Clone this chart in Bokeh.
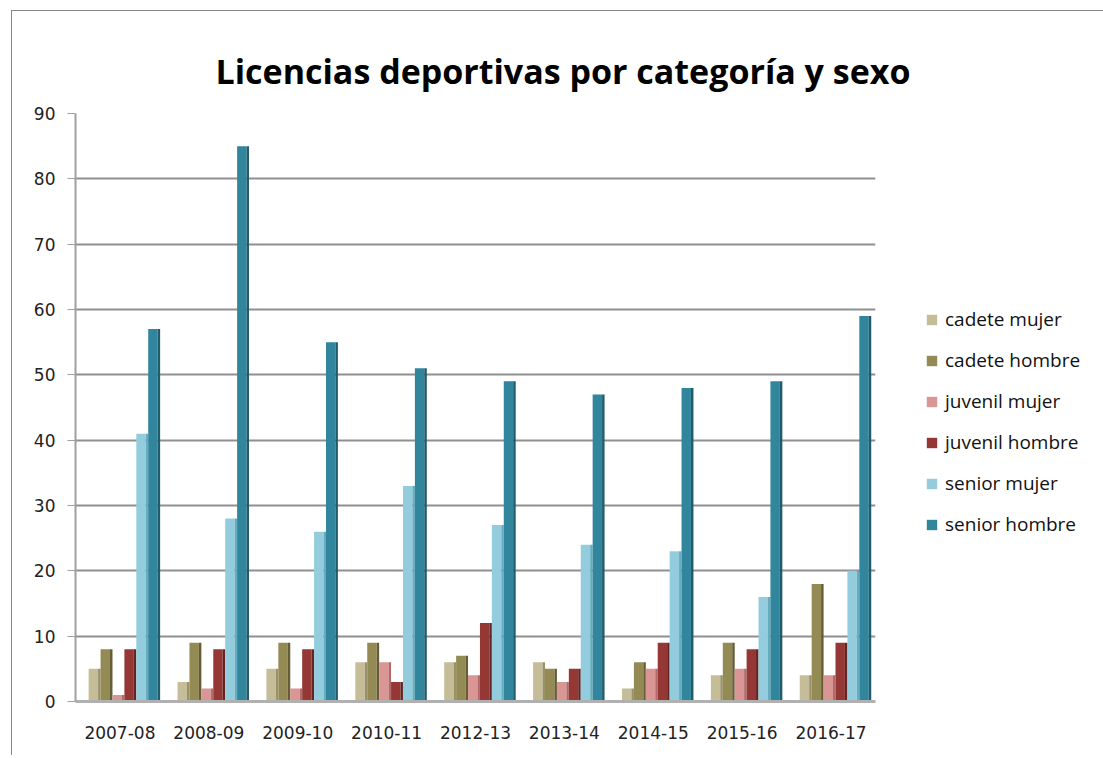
from bokeh.plotting import figure
from bokeh.models import ColumnDataSource, FactorRange, Range1d, Legend, LegendItem, SingleIntervalTicker
from bokeh.transform import dodge
from bokeh.embed import file_html
from bokeh.resources import INLINE

years = ["2007-08", "2008-09", "2009-10", "2010-11", "2012-13",
         "2013-14", "2014-15", "2015-16", "2016-17"]
cadete_mujer = [5, 3, 5, 6, 6, 6, 2, 4, 4]
cadete_hombre = [8, 9, 9, 9, 7, 5, 6, 9, 18]
juvenil_mujer = [1, 2, 2, 6, 4, 3, 5, 5, 4]
juvenil_hombre = [8, 8, 8, 3, 12, 5, 9, 8, 9]
senior_mujer = [41, 28, 26, 33, 27, 24, 23, 16, 20]
senior_hombre = [57, 85, 55, 51, 49, 47, 48, 49, 59]
series_names = ["cadete mujer", "cadete hombre", "juvenil mujer",
                "juvenil hombre", "senior mujer", "senior hombre"]
title_text = "Licencias deportivas por categoría y sexo"

series_keys = ["cm", "ch", "jm", "jh", "sm", "sh"]
front_colors = ["#c4bd97", "#948a54", "#d99694", "#953735", "#93cddd", "#31859c"]
side_colors = ["#9a9168", "#645d36", "#b06b69", "#632523", "#64adc1", "#215c6c"]

source = ColumnDataSource(data=dict(
    years=years, cm=cadete_mujer, ch=cadete_hombre, jm=juvenil_mujer,
    jh=juvenil_hombre, sm=senior_mujer, sh=senior_hombre))

p = figure(x_range=FactorRange(*years, range_padding=0), y_range=Range1d(0, 90),
           frame_width=800, frame_height=588,
           min_border_left=63, min_border_right=215, min_border_top=102, min_border_bottom=54,
           output_backend="svg", toolbar_location=None, tools="")

p.title.text = title_text
p.title.text_font = "Open Sans"
p.title.text_font_style = "bold"
p.title.text_font_size = "34px"
p.title.text_color = "#000000"
p.title.align = "left"
p.title.offset = 140
p.title.standoff = 40

slot = 0.134
front_w = 0.106
side_w = 0.028
items = []
for i, (key, name) in enumerate(zip(series_keys, series_names)):
    center = (i - 2.5) * slot + 0.05
    fx = center - side_w / 2
    sx = fx + front_w / 2 + side_w / 2
    r = p.vbar(x=dodge("years", fx, range=p.x_range), top=key, width=front_w,
               source=source, fill_color=front_colors[i], line_color=None)
    p.vbar(x=dodge("years", sx, range=p.x_range), top=key, width=side_w,
           source=source, fill_color=side_colors[i], line_color=None)
    items.append(LegendItem(label=name, renderers=[r]))

legend = Legend(items=items, location=(50, 164), orientation="vertical")
legend.label_text_font = "Open Sans"
legend.label_text_font_size = "19px"
legend.label_text_color = "#111111"
legend.glyph_width = 13
legend.glyph_height = 13
legend.label_height = 20
legend.label_standoff = 7
legend.spacing = 15
legend.padding = 0
legend.margin = 0
legend.border_line_color = None
legend.background_fill_alpha = 0
p.add_layout(legend, "right")

p.outline_line_color = None
p.xgrid.grid_line_color = None
p.ygrid.grid_line_color = "#8f8f8f"
p.ygrid.grid_line_width = 2
p.yaxis.ticker = SingleIntervalTicker(interval=10)

p.yaxis.axis_line_color = "#a0a0a0"
p.yaxis.axis_line_width = 2
p.yaxis.major_tick_line_color = "#a0a0a0"
p.yaxis.major_tick_out = 8
p.yaxis.major_tick_in = 0
p.yaxis.minor_tick_line_color = None
p.yaxis.major_label_standoff = 12
p.yaxis.major_label_text_font = "DejaVu Sans"
p.yaxis.major_label_text_font_size = "17px"
p.yaxis.major_label_text_color = "#222222"

p.xaxis.axis_line_color = "#b0b0b0"
p.xaxis.axis_line_width = 3
p.xaxis.major_tick_line_color = None
p.xaxis.major_tick_out = 0
p.xaxis.major_label_standoff = 24
p.xaxis.major_label_text_font = "DejaVu Sans"
p.xaxis.major_label_text_font_size = "17px"
p.xaxis.major_label_text_color = "#222222"

p.styles = {"border-left": "1px solid #888888", "border-top": "1px solid #888888",
            "margin-left": "11px", "margin-top": "10px"}

open("out.html", "w").write(file_html(p, INLINE))
